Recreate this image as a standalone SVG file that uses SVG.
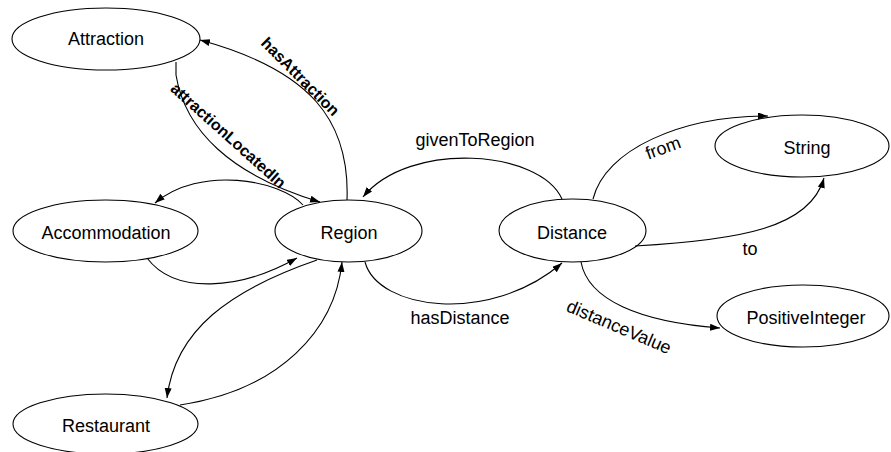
<svg xmlns="http://www.w3.org/2000/svg" width="891" height="452" viewBox="0 0 891 452">
<style>
.node ellipse{fill:#fff;stroke:#000;stroke-width:1.1}
text{font-family:"Liberation Sans",Arial,sans-serif;font-size:18px;fill:#000}
.nl{text-anchor:middle}
.el{text-anchor:middle}
.bold{font-weight:bold;font-size:16px}
#edges path{fill:none;stroke:#000;stroke-width:1.1;marker-end:url(#arr)}
</style>
<defs>
<marker id="arr" markerUnits="userSpaceOnUse" markerWidth="11" markerHeight="8" refX="10" refY="3.5" orient="auto">
<path d="M0,0 L10,3.5 L0,7 z" fill="#000"/>
</marker>
</defs>
<rect width="891" height="452" fill="#fff"/>
<g id="nodes">
<g id="Attraction" class="node"><ellipse cx="106" cy="39" rx="94" ry="31"/><text class="nl" x="106" y="45">Attraction</text></g>
<g id="Accommodation" class="node"><ellipse cx="105.5" cy="231" rx="92.5" ry="31"/><text class="nl" x="106" y="239">Accommodation</text></g>
<g id="Restaurant" class="node"><ellipse cx="105.5" cy="424" rx="92.5" ry="30"/><text class="nl" x="106" y="432">Restaurant</text></g>
<g id="Region" class="node"><ellipse cx="348.5" cy="231" rx="73.5" ry="31"/><text class="nl" x="349" y="239">Region</text></g>
<g id="Distance" class="node"><ellipse cx="572.5" cy="230.5" rx="73.5" ry="31.5"/><text class="nl" x="572" y="239">Distance</text></g>
<g id="String" class="node"><ellipse cx="802" cy="146" rx="87" ry="31"/><text class="nl" x="807" y="154">String</text></g>
<g id="PositiveInteger" class="node"><ellipse cx="803" cy="316" rx="86" ry="31"/><text class="nl" x="806" y="324">PositiveInteger</text></g>
</g>
<g id="edges">
<path d="M347,200 C350,120 310,70 200,40"/>
<path d="M176,62 L176,75 C185,130 230,175 320,202"/>
<path d="M303,205 C280,180 200,165 155,203"/>
<path d="M147,258 C175,295 240,290 297,258"/>
<path d="M317,260 C230,290 175,330 167,398"/>
<path d="M180,405 C280,390 335,330 342,262"/>
<path d="M562,199 C540,150 410,140 363,197"/>
<path d="M365,262 C378,310 490,325 562,263"/>
<path d="M593,199 C605,150 680,116 768,116"/>
<path d="M635,246 C740,240 810,228 824,178"/>
<path d="M581,262 C588,300 640,322 720,328"/>
</g>
<g id="edge-labels">
<text class="el bold" transform="translate(300,77) rotate(45)" y="5">hasAttraction</text>
<text class="el bold" transform="translate(228,136) rotate(42)" y="5">attractionLocatedIn</text>
<text class="el" x="475" y="146">givenToRegion</text>
<text class="el" x="460" y="324">hasDistance</text>
<text class="el" transform="translate(663,148) rotate(-20)" y="6">from</text>
<text class="el" x="750" y="255">to</text>
<text class="el" transform="translate(619,327) rotate(23)" y="6">distanceValue</text>
</g>
</svg>
